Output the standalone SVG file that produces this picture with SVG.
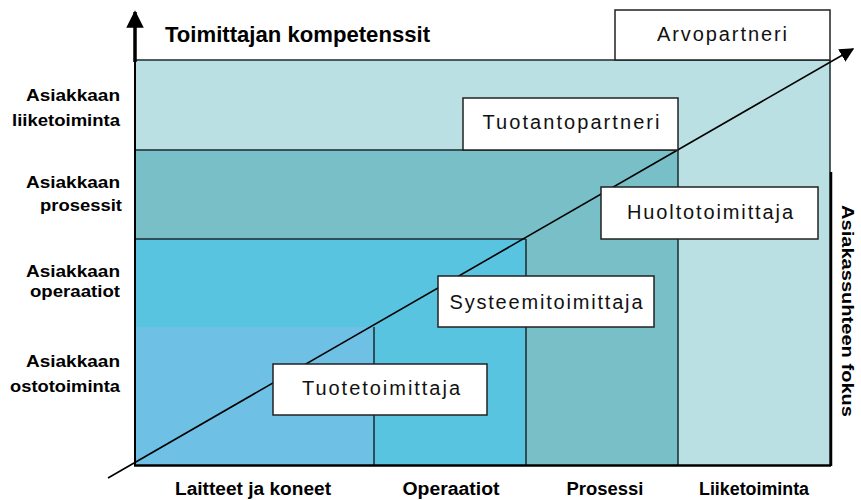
<svg xmlns="http://www.w3.org/2000/svg" width="861" height="500" viewBox="0 0 861 500">
  <defs>
    <style>
      .lbl { font-family: "Liberation Sans", Arial, sans-serif; font-weight: bold; font-size: 17px; fill: #000; }
      .col { font-size: 18px; text-anchor: middle; }
      .title { font-family: "Liberation Sans", Arial, sans-serif; font-weight: bold; font-size: 22px; fill: #000; }
      .box { fill: #fff; stroke: #222; stroke-width: 1.5; }
      .boxtxt { font-family: "Liberation Sans", Arial, sans-serif; font-size: 20px; fill: #111; text-anchor: middle; }
      .grid { stroke: #1a2a2e; stroke-width: 1.5; fill: none; }
      .axis { stroke: #000; fill: none; }
    </style>
    <marker id="arrow" viewBox="0 0 10 10" refX="9" refY="5" markerWidth="5" markerHeight="5" orient="auto-start-reverse" markerUnits="strokeWidth">
      <path d="M0,0 L10,5 L0,10 z" fill="#000"/>
    </marker>
    <marker id="arrowSmall" viewBox="0 0 10 10" refX="9" refY="5" markerWidth="9" markerHeight="9" orient="auto" markerUnits="strokeWidth">
      <path d="M0,0 L10,5 L0,10 z" fill="#000"/>
    </marker>
  </defs>

  <rect width="861" height="500" fill="#fff"/>

  <!-- staircase of competence levels -->
  <g id="bands">
    <rect x="135" y="60" width="695" height="405" fill="#BBE0E3"/>
    <rect x="135" y="150" width="543" height="315" fill="#78BFC8"/>
    <rect x="135" y="239" width="391" height="226" fill="#58C4E0"/>
    <rect x="135" y="327" width="239" height="138" fill="#6EC1E4"/>
  </g>

  <g id="grid">
    <line class="grid" x1="135" y1="60" x2="830" y2="60" stroke-width="1"/>
    <line class="grid" x1="135" y1="150" x2="678" y2="150"/>
    <line class="grid" x1="135" y1="239" x2="526" y2="239"/>
    <line class="grid" x1="374" y1="327" x2="374" y2="465"/>
    <line class="grid" x1="526" y1="239" x2="526" y2="465"/>
    <line class="grid" x1="678" y1="150" x2="678" y2="465"/>
    <line class="grid" x1="830" y1="60" x2="830" y2="465"/>
  </g>

  <!-- axes and the growth diagonal -->
  <g id="connectors">
    <line class="axis" x1="135" y1="466" x2="135" y2="60" stroke-width="2"/>
    <line class="axis" x1="135" y1="62" x2="135" y2="12" stroke-width="3.5" marker-end="url(#arrow)"/>
    <line class="axis" x1="134" y1="465.5" x2="831" y2="465.5" stroke-width="2.5"/>
    <line class="axis" x1="831" y1="172" x2="831" y2="466" stroke-width="2.5"/>
    <line class="axis" x1="108" y1="478" x2="853" y2="49" stroke-width="1.6" marker-end="url(#arrowSmall)"/>
  </g>

  <text class="title" x="165" y="42" textLength="265" lengthAdjust="spacingAndGlyphs">Toimittajan kompetenssit</text>

  <!-- row labels -->
  <g id="row-liiketoiminta">
    <text class="lbl" x="120" y="101" text-anchor="end" textLength="94" lengthAdjust="spacingAndGlyphs">Asiakkaan</text>
    <text class="lbl" x="120" y="126" text-anchor="end" textLength="108" lengthAdjust="spacingAndGlyphs">liiketoiminta</text>
  </g>
  <g id="row-prosessit">
    <text class="lbl" x="120" y="188" text-anchor="end" textLength="94" lengthAdjust="spacingAndGlyphs">Asiakkaan</text>
    <text class="lbl" x="122" y="211" text-anchor="end" textLength="82" lengthAdjust="spacingAndGlyphs">prosessit</text>
  </g>
  <g id="row-operaatiot">
    <text class="lbl" x="120" y="277" text-anchor="end" textLength="94" lengthAdjust="spacingAndGlyphs">Asiakkaan</text>
    <text class="lbl" x="120" y="297" text-anchor="end" textLength="90" lengthAdjust="spacingAndGlyphs">operaatiot</text>
  </g>
  <g id="row-ostotoiminta">
    <text class="lbl" x="120" y="367" text-anchor="end" textLength="94" lengthAdjust="spacingAndGlyphs">Asiakkaan</text>
    <text class="lbl" x="120" y="392" text-anchor="end" textLength="110" lengthAdjust="spacingAndGlyphs">ostotoiminta</text>
  </g>

  <!-- column labels -->
  <g id="col-laitteet"><text class="lbl col" x="253" y="495" textLength="156" lengthAdjust="spacingAndGlyphs">Laitteet ja koneet</text></g>
  <g id="col-operaatiot"><text class="lbl col" x="451" y="495" textLength="97" lengthAdjust="spacingAndGlyphs">Operaatiot</text></g>
  <g id="col-prosessi"><text class="lbl col" x="605" y="495" textLength="77" lengthAdjust="spacingAndGlyphs">Prosessi</text></g>
  <g id="col-liiketoiminta"><text class="lbl col" x="754" y="495" textLength="110" lengthAdjust="spacingAndGlyphs">Liiketoiminta</text></g>

  <!-- relationship axis label -->
  <g id="focus-label">
    <text class="lbl" transform="translate(842,205) rotate(90)" textLength="212" lengthAdjust="spacingAndGlyphs">Asiakassuhteen fokus</text>
  </g>

  <!-- supplier roles -->
  <g id="arvopartneri">
    <rect class="box" x="615" y="10" width="215" height="50"/>
    <text class="boxtxt" x="722" y="41" textLength="130" lengthAdjust="spacing">Arvopartneri</text>
  </g>
  <g id="tuotantopartneri">
    <rect class="box" x="463" y="98" width="215" height="52"/>
    <text class="boxtxt" x="571" y="129" textLength="177" lengthAdjust="spacing">Tuotantopartneri</text>
  </g>
  <g id="huoltotoimittaja">
    <rect class="box" x="601" y="187" width="217" height="52"/>
    <text class="boxtxt" x="710" y="219" textLength="166" lengthAdjust="spacing">Huoltotoimittaja</text>
  </g>
  <g id="systeemitoimittaja">
    <rect class="box" x="438" y="276" width="216" height="51"/>
    <text class="boxtxt" x="546" y="309" textLength="193" lengthAdjust="spacing">Systeemitoimittaja</text>
  </g>
  <g id="tuotetoimittaja">
    <rect class="box" x="273" y="364" width="214" height="51"/>
    <text class="boxtxt" x="381" y="395" textLength="158" lengthAdjust="spacing">Tuotetoimittaja</text>
  </g>
</svg>
